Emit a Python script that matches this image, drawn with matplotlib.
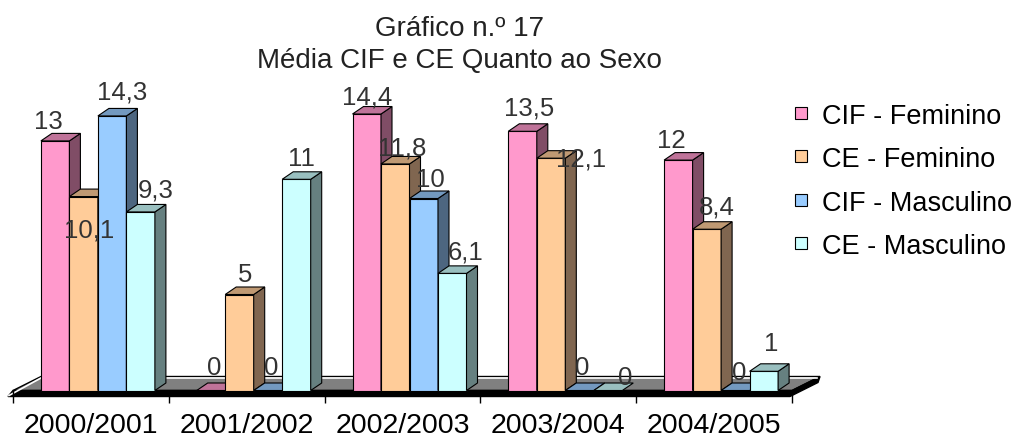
import numpy as np
import matplotlib
matplotlib.use("Agg")
import matplotlib.pyplot as plt
from matplotlib.patches import Polygon, Rectangle

plt.rcParams['font.family'] = ['Liberation Sans', 'DejaVu Sans']

# dados do gráfico
anos = ['2000/2001', '2001/2002', '2002/2003', '2003/2004', '2004/2005']
series = ['CIF - Feminino', 'CE - Feminino', 'CIF - Masculino', 'CE - Masculino']
cif_fem = [13, 0, 14.4, 13.5, 12]
ce_fem = [10.1, 5, 11.8, 12.1, 8.4]
cif_masc = [14.3, 0, 10, 0, 0]
ce_masc = [9.3, 11, 6.1, 0, 1]
valores = [cif_fem, ce_fem, cif_masc, ce_masc]

# cores (frente, topo, lado) estilo Excel
frente = ['#FF99CC', '#FFCC99', '#99CCFF', '#CCFFFF']
topo = ['#BF7399', '#BF9973', '#7399BF', '#99BFBF']
lado = ['#804D66', '#806650', '#4D6680', '#668080']

# deslocamentos dos rótulos (px), por ano e série
lbl_dx = [[-7, 5.5, 10, 15],
          [3.5, 6, 3, 5],
          [0, 6.5, 7, 13.5],
          [7, 30, 3, 17],
          [-7, 10, 4, 7]]
lbl_dy = [[20, -33, 24, 22],
          [23, 20, 23, 21],
          [18, 16, 19, 22],
          [24, 0, 23, 13],
          [20, 23, 18, 28]]

W, H = 1021, 439
fig = plt.figure(figsize=(W / 100, H / 100), dpi=100)

PX_X = 779 / 5.0     # px por categoria
PX_Y = 19.2          # px por unidade
ymax = 17
ax = fig.add_axes([13 / W, (H - 391.5) / H, 779 / W, ymax * PX_Y / H])
ax.set_xlim(-0.5, 4.5)
ax.set_ylim(0, ymax)
ax.set_facecolor('none')
for s in ax.spines.values():
    s.set_visible(False)

# chão 3D
fdx, fdy = 28 / PX_X, 14 / PX_Y
th = 6 / PX_Y
ax.add_patch(Polygon([(-0.5, 0), (4.5, 0), (4.5 + fdx, fdy), (-0.5 + fdx, fdy)],
                     closed=True, fc='#808080', ec='black', lw=1, zorder=1, clip_on=False))
ax.add_patch(Polygon([(-0.5 - 5 / PX_X, -th), (4.5 - 2 / PX_X, -th), (4.5 + fdx - 2 / PX_X, fdy - th),
                      (4.5 + fdx, fdy), (4.5, 0), (-0.5, 0)],
                     closed=True, fc='black', ec='black', lw=1, zorder=1, clip_on=False))
ax.plot([-0.5 + fdx + 2 / PX_X, 4.5 + fdx - 3 / PX_X], [fdy - 1.5 / PX_Y] * 2,
        color='white', lw=1.2, zorder=1.1, clip_on=False)
ax.plot([-0.5 - 4 / PX_X, -0.5 + fdx], [-th + 1 / PX_Y, fdy - 1.5 / PX_Y],
        color='white', lw=1.2, zorder=1.1, clip_on=False)

# barras 3D
w = 28.5 / PX_X
off = -50 / PX_X
ddx, ddy = 11 / PX_X, 7.5 / PX_Y
for i in range(len(anos)):
    for j in range(len(series)):
        v = valores[j][i]
        x0 = i + off + j * w
        if v > 0:
            ax.add_patch(Rectangle((x0, 0), w, v, fc=frente[j], ec='black', lw=0.8,
                                   zorder=2, clip_on=False))
            ax.add_patch(Polygon([(x0 + w, 0), (x0 + w + ddx, ddy), (x0 + w + ddx, v + ddy), (x0 + w, v)],
                                 closed=True, fc=lado[j], ec='black', lw=0.8, zorder=2, clip_on=False))
        ax.add_patch(Polygon([(x0, v), (x0 + ddx, v + ddy), (x0 + w + ddx, v + ddy), (x0 + w, v)],
                             closed=True, fc=topo[j], ec='black', lw=0.8, zorder=2, clip_on=False))
        txt = ('%g' % v).replace('.', ',')
        ax.text(x0 + w / 2 + lbl_dx[i][j] / PX_X, v + lbl_dy[i][j] / PX_Y, txt,
                ha='center', va='center', fontsize=18.5, color='#333333', zorder=10)

# eixo x
ax.set_yticks([])
ax.set_xticks(range(len(anos)))
ax.set_xticklabels(anos, fontsize=20.5, color='black')
ax.tick_params(axis='x', which='major', length=0, pad=15.5)
ax.set_xticks(np.arange(-0.5, 5, 1), minor=True)
ax.tick_params(axis='x', which='minor', length=8.6, width=1, color='black')

# título
fig.text(459 / W, 1 - 36 / H, 'Gráfico n.º 17', ha='center', va='baseline',
         fontsize=20, color='#222222')
fig.text(459 / W, 1 - 68 / H, 'Média CIF e CE Quanto ao Sexo', ha='center', va='baseline',
         fontsize=20, color='#222222')

# legenda
linhas = [114, 157, 201, 244]
for k, nome in enumerate(series):
    yc = linhas[k]
    fig.patches.append(Rectangle((795 / W, 1 - (yc + 6) / H), 12 / W, 12 / H,
                                 transform=fig.transFigure, fc=frente[k], ec='black', lw=0.8))
    fig.text(822 / W, 1 - (yc + 9.7) / H, nome, ha='left', va='baseline',
             fontsize=19.5, color='black')

fig.savefig('out.png', dpi=100)
